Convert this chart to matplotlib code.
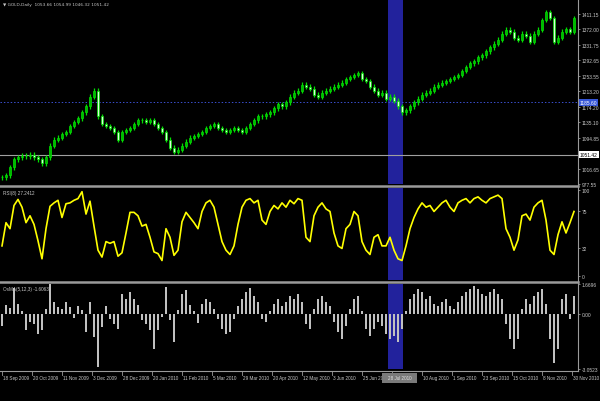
import matplotlib
matplotlib.use('Agg')
import matplotlib.pyplot as plt
from matplotlib.patches import Rectangle
from matplotlib.lines import Line2D
import numpy as np

# ---------------- data (one bar every ~4 px of the reference) ----------------
close = [995, 1000, 1020, 1040, 1045, 1050, 1048, 1052, 1045, 1040, 1030, 1045,
         1075, 1090, 1095, 1105, 1110, 1125, 1135, 1145, 1160, 1175, 1200, 1215,
         1150, 1130, 1125, 1120, 1110, 1090, 1110, 1115, 1120, 1130, 1140, 1140,
         1135, 1140, 1130, 1120, 1110, 1090, 1070, 1060, 1065, 1075, 1085, 1095,
         1100, 1105, 1110, 1120, 1125, 1130, 1120, 1115, 1110, 1115, 1120, 1115,
         1110, 1120, 1130, 1140, 1150, 1150, 1155, 1160, 1170, 1180, 1175, 1185,
         1200, 1210, 1215, 1230, 1225, 1220, 1205, 1200, 1210, 1215, 1220, 1225,
         1230, 1235, 1245, 1250, 1255, 1260, 1245, 1240, 1225, 1215, 1205, 1210,
         1195, 1200, 1190, 1175, 1160, 1165, 1175, 1185, 1195, 1205, 1210, 1215,
         1225, 1230, 1235, 1240, 1245, 1250, 1255, 1265, 1275, 1285, 1290, 1300,
         1305, 1315, 1325, 1335, 1345, 1360, 1370, 1365, 1350, 1345, 1360, 1355,
         1340, 1360, 1370, 1395, 1415, 1400, 1340, 1350, 1365, 1372, 1365, 1400]

rsi = [35, 62, 55, 82, 89, 80, 62, 70, 60, 41, 20, 55,
       81, 85, 88, 68, 84, 85, 88, 90, 98, 72, 87, 58,
       30, 22, 40, 38, 40, 23, 27, 50, 74, 74, 70, 58,
       60, 45, 28, 26, 18, 55, 45, 24, 30, 63, 74, 68,
       62, 55, 75, 85, 88, 80, 60, 40, 30, 25, 35, 60,
       80, 88, 90, 85, 88, 65, 60, 75, 82, 78, 85, 80,
       88, 84, 90, 88, 45, 40, 70, 80, 85, 78, 75, 50,
       35, 32, 55, 60, 75, 70, 40, 30, 25, 45, 48, 35,
       35, 45, 30, 20, 18, 35, 55, 68, 78, 85, 80, 82,
       75, 80, 85, 88, 80, 75, 85, 88, 90, 85, 90, 92,
       88, 85, 90, 92, 94, 90, 55, 45, 30, 42, 70, 72,
       65, 80, 85, 88, 65, 30, 25, 48, 63, 50, 62, 75]

osma = [-0.67, 0.5, 0.33, 1.44, 0.56, 0.17, -0.89, -0.44, -0.56, -1.11, -0.89, 0.28,
        1.67, 0.67, 0.39, 0.28, 0.67, 0.39, -0.22, 0.44, 0.22, -1.0, 0.67, -1.28,
        -2.95, -0.72, 0.44, -0.28, -0.56, -0.83, 1.11, 0.83, 1.22, 0.83, 0.5, -0.33,
        -0.56, -0.89, -1.94, -0.89, -0.17, 1.5, -0.33, -1.56, 0.22, 1.11, 1.33, 0.5,
        0.17, -0.5, 0.56, 0.83, 0.67, 0.28, -0.28, -0.83, -1.11, -1.0, -0.28, 0.44,
        0.83, 1.22, 1.44, 1.0, 0.67, -0.28, -0.44, 0.17, 0.56, 0.83, 0.44, 0.67,
        1.0, 0.83, 1.11, 0.67, -0.56, -0.83, 0.28, 0.83, 1.0, 0.67, 0.44, -0.44,
        -1.0, -1.39, -0.67, 0.28, 0.83, 1.0, 0.17, -0.83, -1.22, -0.83, -0.44, -0.67,
        -1.11, -1.39, -1.22, -1.56, -0.83, 0.17, 0.83, 1.11, 1.39, 1.22, 0.83, 1.0,
        0.56, 0.44, 0.67, 0.83, 0.44, 0.28, 0.67, 1.0, 1.22, 1.39, 1.56, 1.39,
        1.11, 1.0, 1.22, 1.39, 1.11, 0.83, -0.56, -1.39, -1.94, -1.39, 0.28, 0.83,
        0.56, 1.0, 1.22, 1.39, 0.56, -1.39, -2.7, -1.94, 0.83, 1.11, -0.28, 1.0]

# the tick after 25 Jun 2010 lies under the cursor date box, so its label is not shown
date_labels = ['18 Sep 2009', '20 Oct 2009', '11 Nov 2009', '3 Dec 2009', '28 Dec 2009',
               '20 Jan 2010', '11 Feb 2010', '5 Mar 2010', '29 Mar 2010', '20 Apr 2010',
               '12 May 2010', '3 Jun 2010', '25 Jun 2010', '', '10 Aug 2010',
               '1 Sep 2010', '23 Sep 2010', '15 Oct 2010', '8 Nov 2010', '30 Nov 2010']
cursor_date = '28 Jul 2010'

price_ticks = [1411.15, 1372.00, 1331.75, 1292.65, 1253.55, 1213.20, 1174.20,
               1135.10, 1094.85, 1016.65, 977.55]
bid_price = 1051.42
cursor_price = 1185.60
rsi_ticks = [100, 75, 32, 0]
osma_ticks = [1.6696, 0.00, -3.0523]
title = '\u25bc GOLD,Daily  1053.66 1054.99 1046.32 1051.42'
rsi_title = 'RSI(8) 27.2412'
osma_title = 'OsMA(5,12,3) -1.6063'
band_range = (96.5, 100.25)   # highlighted bars (index units)

# ---------------- layout ----------------
W, H = 600, 402
FONT = 'Liberation Sans'
TXT = '#c8c8c8'
GRID = '#9a9a9a'
LAB = 3.5
fig = plt.figure(figsize=(6, 4.02), dpi=100, facecolor='black')


def rect(x0, y0, x1, y1):
    return [x0 / W, 1 - y1 / H, (x1 - x0) / W, (y1 - y0) / H]


ax_main = fig.add_axes(rect(0, 0, 578, 185))
ax_rsi = fig.add_axes(rect(0, 189, 578, 281))
ax_osma = fig.add_axes(rect(0, 285, 578, 370))

n = len(close)
x = np.arange(n)
for ax in (ax_main, ax_rsi, ax_osma):
    ax.set_facecolor('black')
    ax.set_xlim(-0.5, 144)
    for s in ax.spines.values():
        s.set_visible(False)
    ax.set_xticks([])
    ax.yaxis.tick_right()
    ax.tick_params(axis='y', colors=GRID, length=1.5, width=0.6, pad=1.0,
                   labelsize=LAB, labelcolor=TXT)
    ax.axvspan(*band_range, color='#22229c', zorder=0, lw=0)

# ---- main price panel ----
ax_main.set_ylim(980.3, 1448.3)
opens = [close[0]] + close[:-1]
for i in range(n):
    o, c = opens[i], close[i]
    lo, hi = min(o, c), max(o, c)
    ax_main.vlines(i, lo - 6, hi + 6, color='#00e000', lw=0.9, zorder=3)
    face = '#00b800' if c >= o else '#d8ffd8'
    ax_main.add_patch(Rectangle((i - 0.32, lo), 0.64, max(hi - lo, 1.0),
                                facecolor=face, edgecolor='#00e000', lw=0.5, zorder=4))
ax_main.axhline(cursor_price, color='#3a4fd0', lw=0.7, ls=(0, (1.5, 2)), zorder=2)
ax_main.axhline(bid_price, color='#a0a0a0', lw=0.8, zorder=2)
ax_main.set_yticks(price_ticks)
ax_main.set_yticklabels([f'{v:.2f}' for v in price_ticks], fontfamily=FONT)
ax_main.text(1.003, cursor_price, f'{cursor_price:.2f}', transform=ax_main.get_yaxis_transform(),
             fontsize=LAB, fontfamily=FONT, color='white', va='center', ha='left', zorder=10,
             bbox=dict(boxstyle='square,pad=0.2', fc='#3656d8', ec='none'))
ax_main.text(1.003, bid_price, f'{bid_price:.2f}', transform=ax_main.get_yaxis_transform(),
             fontsize=LAB, fontfamily=FONT, color='black', va='center', ha='left', zorder=10,
             bbox=dict(boxstyle='square,pad=0.2', fc='white', ec='none'))
ax_main.text(0.005, 0.985, title, transform=ax_main.transAxes, fontsize=3.1,
             fontfamily=['DejaVu Sans'], color=TXT, va='top', ha='left')

# ---- RSI panel ----
ax_rsi.set_ylim(-4.65, 102.3)
ax_rsi.plot(x, rsi, color='#ffff00', lw=1.2, zorder=3)
ax_rsi.set_yticks(rsi_ticks)
ax_rsi.set_yticklabels([str(v) for v in rsi_ticks], fontfamily=FONT)
ax_rsi.text(0.005, 0.975, rsi_title, transform=ax_rsi.transAxes, fontsize=3.3,
            fontfamily=FONT, color=TXT, va='top', ha='left')

# ---- OsMA panel ----
ax_osma.set_ylim(-3.0523, 1.6696)
ax_osma.bar(x, osma, width=0.45, color='#c0c0c0', zorder=3)
ax_osma.set_yticks(osma_ticks)
ax_osma.set_yticklabels(['1.6696', '0.00', '-3.0523'], fontfamily=FONT)
ax_osma.text(0.005, 0.975, osma_title, transform=ax_osma.transAxes, fontsize=3.3,
             fontfamily=FONT, color=TXT, va='top', ha='left')

# ---- frame lines / separators / time axis (figure pixels) ----
def fline(x0, y0, x1, y1, **kw):
    fig.add_artist(Line2D([x0 / W, x1 / W], [1 - y0 / H, 1 - y1 / H], **kw))

fline(578, 0, 578, 372, color=GRID, lw=0.8)
fline(0, 187.3, 578, 187.3, color=GRID, lw=1.8)
fline(0, 282.5, 578, 282.5, color=GRID, lw=1.8)
fline(0, 371.5, 578, 371.5, color=GRID, lw=0.8)

for k, lab in enumerate(date_labels):
    px = 2 + 30 * k
    fline(px, 371.5, px, 375.5, color=GRID, lw=0.6)
    if lab:
        fig.text((px + 1.2) / W, 1 - 379 / H, lab, fontsize=3.3, fontfamily=FONT,
                 color=TXT, ha='left', va='center', zorder=2)

# highlighted cursor date on the time scale (drawn over the neighbouring label)
fig.add_artist(Rectangle((382 / W, 1 - 383.5 / H), 35 / W, 10 / H, transform=fig.transFigure,
                         facecolor='#7a7a7a', edgecolor='none', zorder=5))
fig.text(399.5 / W, 1 - 378.5 / H, cursor_date, fontsize=3.3, fontfamily=FONT,
         color='#e0e0e0', ha='center', va='center', zorder=6)

fig.savefig('out.png', dpi=100, facecolor='black')
